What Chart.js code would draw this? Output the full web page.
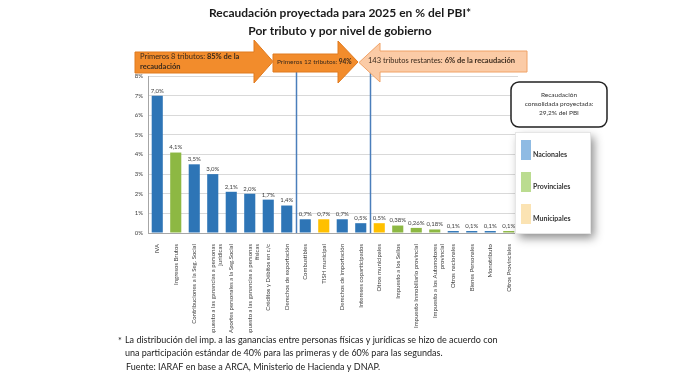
<!DOCTYPE html>
<html>
<head>
<meta charset="utf-8">
<script src="https://cdn.jsdelivr.net/npm/chart.js@4.4.1/dist/chart.umd.min.js"></script>
<style>
  body { margin: 0; background: #fff; }
  #wrap { width: 700px; height: 387px; }
</style>
</head>
<body>
<div id="wrap"><canvas id="chart" width="700" height="387"></canvas></div>
<script>
const categories = [
  'IVA',
  'Ingresos Brutos',
  'Contribuciones a la Seg. Social',
  ['Impuesto a las ganancias a personas', 'jurídicas'],
  'Aportes personales a la Seg.Social',
  ['Impuesto a las ganancias a personas', 'físicas'],
  'Créditos y Débitos en c/c',
  'Derechos de exportación',
  'Combustibles',
  'TISH municipal',
  'Derechos de importación',
  'Intereses coparticipados',
  'Otros municipales',
  'Impuesto a los Sellos',
  'Impuesto Inmobiliario provincial',
  ['Impuesto a los Automotores', 'provincial'],
  'Otros nacionales',
  'Bienes Personales',
  'Monotributo',
  'Otros Provinciales'
];
const values = [7.0, 4.1, 3.5, 3.0, 2.1, 2.0, 1.7, 1.4, 0.7, 0.7, 0.7, 0.5, 0.5, 0.38, 0.26, 0.18, 0.1, 0.1, 0.1, 0.1];
// N = nacional, P = provincial, M = municipal
const levels = ['N', 'P', 'N', 'N', 'N', 'N', 'N', 'N', 'N', 'M', 'N', 'N', 'M', 'P', 'P', 'P', 'N', 'N', 'N', 'P'];
const yTicks = [0, 1, 2, 3, 4, 5, 6, 7, 8];
// separators drawn between these category indexes (after 8 and after 12 tributos)
const dividers = [7.5, 11.5];

const levelColors = { N: '#2E75B6', P: '#8DB843', M: '#FFC000' };
const legendItems = [
  { label: 'Nacionales', color: '#8FBBE3' },
  { label: 'Provinciales', color: '#BBDC90' },
  { label: 'Municipales', color: '#FBE3B3' }
];

const FONT = 'Lato, "Open Sans", sans-serif';

function fmt(v) {
  const s = Number.isInteger(v) ? v.toFixed(1) : String(v);
  return s.replace('.', ',') + '%';
}

function drawRichLine(ctx, parts, x, y, size) {
  let cx = x;
  parts.forEach(p => {
    ctx.font = (p.bold ? 'bold ' : '') + size + 'px ' + FONT;
    ctx.fillText(p.t, cx, y);
    cx += ctx.measureText(p.t).width;
  });
}

const extras = {
  id: 'extras',
  afterDatasetsDraw(chart) {
    const ctx = chart.ctx;
    const meta = chart.getDatasetMeta(0);
    ctx.save();
    ctx.fillStyle = '#404040';
    ctx.font = '6px ' + FONT;
    ctx.textAlign = 'center';
    ctx.textBaseline = 'bottom';
    meta.data.forEach((bar, i) => {
      ctx.fillText(fmt(values[i]), bar.x, bar.y - 2);
    });
    // vertical separators
    const xs = chart.scales.x;
    ctx.strokeStyle = '#4A7EBB';
    ctx.lineWidth = 1.5;
    dividers.forEach(d => {
      const px = Math.round(xs.getPixelForValue(d)) + 0.5;
      ctx.beginPath();
      ctx.moveTo(px, 72);
      ctx.lineTo(px, chart.chartArea.bottom);
      ctx.stroke();
    });
    ctx.restore();
  },
  afterDraw(chart) {
    const ctx = chart.ctx;
    ctx.save();
    // title
    ctx.fillStyle = '#1a1a1a';
    ctx.textAlign = 'center';
    ctx.textBaseline = 'middle';
    ctx.font = 'bold 12px ' + FONT;
    ctx.fillText('Recaudación proyectada para 2025 en % del PBI*', 340, 13);
    ctx.fillText('Por tributo y por nivel de gobierno', 340, 31);

    // arrows
    function arrow(x0, hx, tip, st, sb, ht, hb, fill, stroke) {
      const my = (ht + hb) / 2;
      ctx.beginPath();
      ctx.moveTo(x0, st); ctx.lineTo(hx, st); ctx.lineTo(hx, ht); ctx.lineTo(tip, my);
      ctx.lineTo(hx, hb); ctx.lineTo(hx, sb); ctx.lineTo(x0, sb); ctx.closePath();
      ctx.fillStyle = fill; ctx.fill();
      ctx.strokeStyle = stroke; ctx.lineWidth = 1; ctx.stroke();
    }
    arrow(135, 254, 273, 52, 73, 40, 83, '#F28C2C', '#E07A1E');
    arrow(273, 338, 358, 54, 72, 41, 83, '#F28C2C', '#E07A1E');
    arrow(527, 380, 359, 51, 72, 43, 82, '#FBCBA6', '#F0A266');

    ctx.textAlign = 'left';
    ctx.textBaseline = 'middle';
    ctx.fillStyle = '#3a2a1c';
    drawRichLine(ctx, [{ t: 'Primeros 8 tributos: ' }, { t: '85% de la', bold: true }], 140, 57, 7.5);
    drawRichLine(ctx, [{ t: 'recaudación', bold: true }], 140, 67, 7.5);
    drawRichLine(ctx, [{ t: 'Primeros 12 tributos: ' }, { t: '94%', bold: true }], 277, 62, 6.5);
    drawRichLine(ctx, [{ t: '143 tributos restantes: ' }, { t: '6% de la recaudación', bold: true }], 368, 61, 7.5);

    // total box
    ctx.beginPath();
    ctx.roundRect(511, 82, 96, 45, 8);
    ctx.fillStyle = '#fff'; ctx.fill();
    ctx.strokeStyle = '#222'; ctx.lineWidth = 1.5; ctx.stroke();
    ctx.fillStyle = '#333';
    ctx.textAlign = 'center';
    ctx.font = '6.5px ' + FONT;
    ctx.fillText('Recaudación', 559, 95);
    ctx.fillText('consolidada proyectada:', 559, 104);
    ctx.fillText('29,2% del PBI', 559, 113);

    // legend box with shadow
    ctx.save();
    ctx.shadowColor = 'rgba(0,0,0,0.45)';
    ctx.shadowBlur = 9;
    ctx.shadowOffsetX = 4;
    ctx.shadowOffsetY = 5;
    ctx.fillStyle = '#fff';
    ctx.fillRect(515, 132, 75, 101);
    ctx.restore();
    ctx.strokeStyle = '#e6e6e6'; ctx.lineWidth = 1;
    ctx.strokeRect(515.5, 132.5, 75, 101);
    ctx.textAlign = 'left';
    ctx.font = 'bold 7px ' + FONT;
    legendItems.forEach((it, i) => {
      const y = 140 + i * 32;
      ctx.fillStyle = it.color;
      ctx.fillRect(521, y, 10, 20);
      ctx.fillStyle = '#333';
      ctx.fillText(it.label, 533, y + 15);
    });

    // footer
    ctx.fillStyle = '#222';
    ctx.font = '9px ' + FONT;
    ctx.fillText('*', 118, 341);
    ctx.fillText('La distribución del imp. a las ganancias entre personas físicas y jurídicas se hizo de acuerdo con', 125, 340);
    ctx.fillText('una participación estándar de 40% para las primeras y de 60% para las segundas.', 125, 353);
    ctx.fillText('Fuente: IARAF en base a ARCA, Ministerio de Hacienda y DNAP.', 126, 367);
    ctx.restore();
  }
};

const ctx = document.getElementById('chart').getContext('2d');
new Chart(ctx, {
  type: 'bar',
  data: {
    labels: categories,
    datasets: [{
      data: values,
      backgroundColor: levels.map(l => levelColors[l]),
      barPercentage: 0.6,
      categoryPercentage: 1.0
    }]
  },
  options: {
    responsive: false,
    animation: false,
    devicePixelRatio: 1,
    layout: { padding: { left: 128, right: 182, top: 76, bottom: 54 } },
    plugins: { legend: { display: false }, tooltip: { enabled: false } },
    scales: {
      x: {
        afterFit: s => { s.height = 100; },
        grid: { display: false },
        border: { display: true, color: '#A6A6A6' },
        ticks: {
          autoSkip: false,
          maxRotation: 90,
          minRotation: 90,
          padding: 3,
          color: '#404040',
          font: { family: FONT, size: 6 }
        }
      },
      y: {
        min: 0,
        max: 8,
        afterFit: s => { s.width = 20; },
        afterBuildTicks: s => { s.ticks = yTicks.map(v => ({ value: v })); },
        grid: { color: '#D9D9D9', drawTicks: false },
        border: { display: true, color: '#A6A6A6' },
        ticks: {
          padding: 5,
          color: '#404040',
          font: { family: FONT, size: 6 },
          callback: v => v + '%'
        }
      }
    }
  },
  plugins: [extras]
});
</script>
</body>
</html>
